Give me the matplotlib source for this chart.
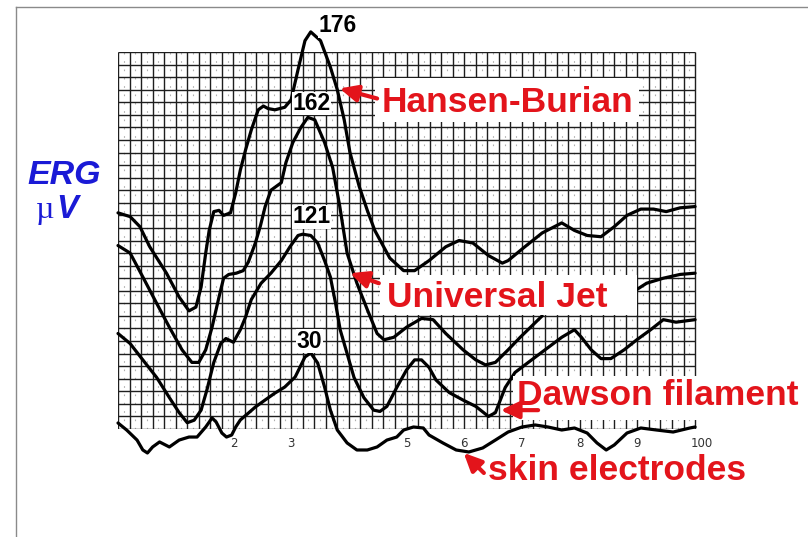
import numpy as np
import matplotlib.pyplot as plt
from matplotlib.patches import Rectangle
from matplotlib.lines import Line2D

# x: time in chart divisions (0-10), y: amplitude in small grid squares (0-30)
hansen_x = [0.0, 0.21, 0.38, 0.55, 0.84, 1.06, 1.23, 1.35, 1.44, 1.52, 1.58, 1.66, 1.75, 1.83,
            1.95, 2.04, 2.12, 2.21, 2.31, 2.43, 2.52, 2.60, 2.72, 2.89, 3.00, 3.12, 3.24, 3.34,
            3.51, 3.68, 3.80, 3.92, 4.02, 4.18, 4.32, 4.45, 4.71, 4.95, 5.14, 5.39, 5.68, 5.91,
            6.15, 6.42, 6.66, 6.76, 7.05, 7.35, 7.69, 7.91, 8.13, 8.37, 8.60, 8.82, 9.06, 9.28,
            9.50, 9.74, 10.0]
hansen_y = [17.2, 16.9, 16.1, 14.5, 12.4, 10.5, 9.4, 9.7, 11.3, 14.0, 15.8, 17.3, 17.4, 17.0,
            17.2, 18.8, 20.6, 22.2, 23.8, 25.4, 25.7, 25.5, 25.4, 25.6, 26.2, 28.6, 30.9, 31.6,
            30.9, 28.8, 27.0, 24.6, 22.0, 19.3, 17.4, 15.8, 13.6, 12.6, 12.6, 13.4, 14.5, 15.0,
            14.8, 13.8, 13.2, 13.4, 14.5, 15.6, 16.4, 15.8, 15.4, 15.3, 16.1, 17.0, 17.5, 17.5,
            17.3, 17.6, 17.7]

jet_x = [0.0, 0.21, 0.43, 0.67, 0.89, 1.11, 1.28, 1.40, 1.52, 1.63, 1.75, 1.83, 1.92, 2.05,
         2.17, 2.26, 2.38, 2.47, 2.55, 2.65, 2.83, 2.91, 3.03, 3.17, 3.29, 3.41, 3.58, 3.72,
         3.84, 3.97, 4.14, 4.32, 4.49, 4.61, 4.78, 5.00, 5.26, 5.46, 5.68, 5.98, 6.20, 6.37,
         6.54, 6.76, 6.97, 7.35, np.nan, 8.99, 9.16, 9.45, 9.74, 10.0]
jet_y = [14.6, 14.0, 12.1, 10.0, 8.1, 6.3, 5.3, 5.3, 6.3, 8.1, 10.5, 12.0, 12.3, 12.4,
         12.6, 13.3, 14.8, 16.2, 17.7, 19.0, 19.6, 21.2, 22.8, 24.0, 24.8, 24.6, 22.8, 20.8,
         17.8, 14.0, 11.6, 9.5, 7.6, 7.1, 7.3, 8.1, 8.8, 8.7, 7.6, 6.3, 5.5, 5.1,
         5.3, 6.3, 7.3, 9.0, np.nan, 11.1, 11.6, 12.0, 12.3, 12.4]

dawson_x = [0.0, 0.21, 0.43, 0.67, 0.89, 1.06, 1.20, 1.32, 1.44, 1.54, 1.66, 1.78, 1.87, 2.00,
            2.12, 2.21, 2.31, 2.48, 2.65, 2.83, 2.98, 3.12, 3.20, 3.34, 3.46, 3.58, 3.68, 3.77,
            3.85, 3.97, 4.09, 4.26, 4.43, 4.54, 4.66, 4.83, 5.00, 5.14, 5.26, 5.39, 5.51, 5.74,
            5.98, 6.20, 6.42, 6.54, 6.71, 6.88, 7.11, 7.40, 7.69, 7.91, 8.03, 8.20, 8.37, 8.54,
            8.77, 8.99, 9.23, 9.45, 9.67, 10.0]
dawson_y = [7.6, 6.8, 5.5, 4.1, 2.5, 1.3, 0.5, 0.7, 1.5, 3.1, 5.3, 6.8, 7.2, 6.9,
            7.9, 8.9, 10.3, 11.6, 12.4, 13.4, 14.5, 15.4, 15.5, 15.4, 14.8, 13.4, 12.1, 10.0,
            7.9, 6.0, 4.1, 2.5, 1.5, 1.4, 1.8, 3.3, 4.7, 5.5, 5.5, 4.9, 3.9, 2.9,
            2.3, 1.8, 1.0, 1.3, 3.3, 4.5, 5.3, 6.3, 7.3, 7.9, 7.3, 6.3, 5.6, 5.6,
            6.3, 7.1, 7.9, 8.7, 8.5, 8.7]

skin_x = [0.0, 0.15, 0.33, 0.43, 0.51, 0.60, 0.72, 0.89, 1.06, 1.23, 1.37, 1.52, 1.63, 1.70,
          1.80, 1.88, 1.97, 2.04, 2.12, 2.26, 2.38, 2.55, 2.72, 2.89, 3.07, 3.24, 3.34, 3.46,
          3.58, 3.68, 3.80, 3.97, 4.14, 4.32, 4.49, 4.66, 4.83, 4.95, 5.12, 5.29, 5.39, 5.63,
          5.86, 6.08, 6.32, 6.54, 6.76, 7.00, 7.23, 7.45, 7.69, 7.91, 8.13, 8.30, 8.46, 8.60,
          8.82, 9.06, 9.33, 9.62, 9.91, 10.0]
skin_y = [0.48, -0.08, -0.88, -1.67, -1.91, -1.43, -1.03, -1.43, -0.88, -0.64, -0.64, 0.16, 0.88, 0.56,
          -0.32, -0.64, -0.48, 0.16, 0.72, 1.27, 1.75, 2.31, 2.86, 3.34, 4.14, 5.73, 6.05, 5.25,
          3.34, 1.51, -0.08, -1.11, -1.67, -1.67, -1.43, -0.88, -0.64, -0.08, 0.16, 0.08, -0.48, -1.11,
          -1.67, -1.83, -1.51, -0.88, -0.24, 0.16, 0.32, 0.16, -0.08, 0.08, -0.32, -1.11, -1.67, -1.27,
          -0.32, 0.08, -0.08, -0.24, 0.08, 0.16]

tick_pos = [2, 3, 5, 6, 7, 8, 9, 10.12]
tick_labels = ['2', '3', '5', '6', '7', '8', '9', '100']

peak_labels = ['176', '162', '121', '30']
peak_x = [3.80, 3.36, 3.36, 3.32]
peak_y = [32.1, 25.9, 16.9, 7.0]

RED = '#e3141b'
BLUE = '#1a1ad6'
SANS = ['Liberation Sans', 'DejaVu Sans']

fig = plt.figure(figsize=(8.08, 5.37), dpi=100)
ax = fig.add_axes([118 / 808, 108 / 537, 584 / 808, 377 / 537])
ax.set_xlim(0, 10)
ax.set_ylim(0, 30)
for s in ax.spines.values():
    s.set_visible(False)
ax.set_yticks([])
ax.set_xticks(tick_pos, tick_labels)
ax.tick_params(axis='x', length=0, pad=6, labelsize=8.5, labelcolor='#333333')

# chart paper grid
ax.vlines(np.arange(0.1, 10, 0.2), 0, 30, color='#b0b0b0', lw=0.8, linestyles=(0, (1.5, 6)), zorder=1)
ax.vlines(np.arange(0, 10.01, 0.2), 0, 30, color='#1e1e1e', lw=1.0, zorder=1)
ax.hlines(range(0, 31), 0, 10, color='#1e1e1e', lw=1.0, zorder=1)

for xs, ys in [(hansen_x, hansen_y), (jet_x, jet_y), (dawson_x, dawson_y), (skin_x, skin_y)]:
    ax.plot(xs, ys, color='black', lw=2.3, clip_on=False, zorder=3,
            solid_joinstyle='round', solid_capstyle='round')

for lab, px, py in zip(peak_labels, peak_x, peak_y):
    ax.text(px, py, lab, ha='center', va='center', fontsize=16.5, fontweight='bold',
            family=SANS, zorder=5,
            bbox=dict(facecolor='white', edgecolor='none', pad=0.3))

# white boxes behind the red labels
for x0, y0, w, h in [(4.45, 24.4, 4.57, 3.5), (4.54, 9.07, 4.45, 3.2), (6.85, 0.72, 5.0, 3.5)]:
    ax.add_patch(Rectangle((x0, y0), w, h, facecolor='white', edgecolor='none',
                           zorder=4, clip_on=False))

ax.text(4.57, 25.2, 'Hansen-Burian', color=RED, fontsize=25.5, fontweight='bold', family=SANS, zorder=5)
ax.text(4.66, 9.7, 'Universal Jet', color=RED, fontsize=25.5, fontweight='bold', family=SANS, zorder=5)
ax.text(6.92, 1.9, 'Dawson filament', color=RED, fontsize=25.5, fontweight='bold', family=SANS,
        zorder=5, clip_on=False)
ax.text(6.42, -4.06, 'skin electrodes', color=RED, fontsize=25.5, fontweight='bold', family=SANS, zorder=5)

for tip, tail in [((3.84, 27.1), (4.49, 26.3)), ((4.02, 12.4), (4.52, 11.6)),
                  ((6.63, 1.5), (7.28, 1.5)), ((5.99, -1.9), (6.34, -3.5))]:
    ax.annotate('', xy=tip, xytext=tail, annotation_clip=False, zorder=6,
                arrowprops=dict(arrowstyle='-|>,head_length=0.6,head_width=0.28', color=RED,
                                lw=3, mutation_scale=18, shrinkA=0, shrinkB=0))

fig.text(27 / 808, 1 - 184 / 537, 'ERG', color=BLUE, fontsize=24.5, fontweight='bold',
         fontstyle='italic', family=SANS)
fig.text(36 / 808, 1 - 218 / 537, 'µ', color=BLUE, fontsize=23, family=['Liberation Serif', 'DejaVu Serif'])
fig.text(56 / 808, 1 - 218 / 537, 'V', color=BLUE, fontsize=23.5, fontweight='bold',
         fontstyle='italic', family=SANS)

fig.add_artist(Line2D([16 / 808, 1], [1 - 7 / 537, 1 - 7 / 537], color='#8a8a8a', lw=1))
fig.add_artist(Line2D([16 / 808, 16 / 808], [0, 1 - 7 / 537], color='#8a8a8a', lw=1))

fig.savefig('out.png', dpi=100)
